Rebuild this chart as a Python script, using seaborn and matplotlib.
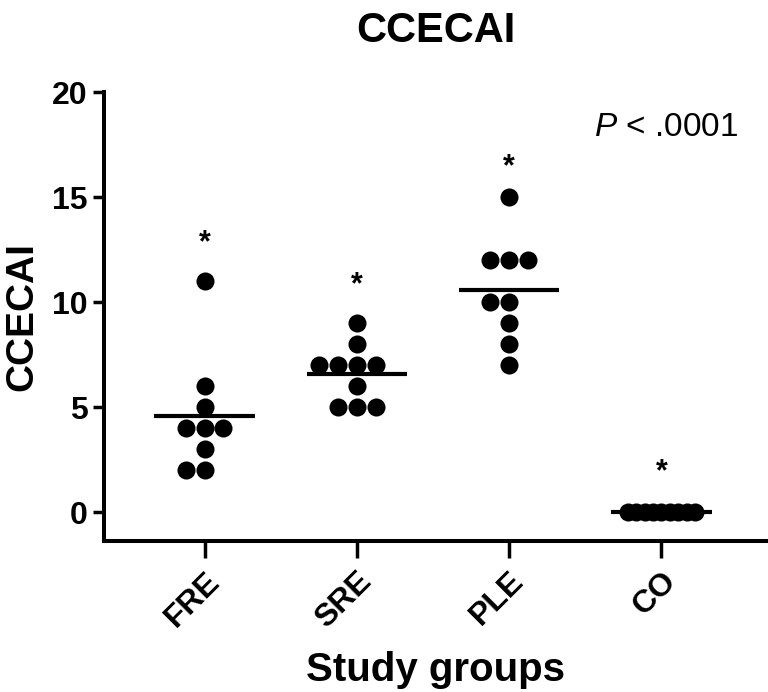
import numpy as np
import pandas as pd
import matplotlib
matplotlib.use('Agg')
import matplotlib.pyplot as plt
import seaborn as sns

# Values
groups = ['FRE', 'SRE', 'PLE', 'CO']
fre_scores = [11, 6, 5, 4, 4, 4, 3, 2, 2]
sre_scores = [9, 8, 7, 7, 7, 7, 6, 5, 5, 5]
ple_scores = [15, 12, 12, 12, 10, 10, 9, 8, 7]
co_scores = [0, 0, 0, 0, 0, 0, 0, 0, 0]
star_heights = [12.8, 10.8, 16.4, 1.9]
p_text = '$\\mathit{P}$ < .0001'

# Build long-form table
rows = []
for name, scores in zip(groups, [fre_scores, sre_scores, ple_scores, co_scores]):
    for s in scores:
        rows.append({'group': name, 'CCECAI': s})
df = pd.DataFrame(rows)

sns.set_style('ticks')
plt.rcParams['font.family'] = ['Liberation Sans', 'DejaVu Sans']
plt.rcParams['font.weight'] = 'bold'
plt.rcParams['mathtext.fontset'] = 'custom'
plt.rcParams['mathtext.it'] = 'Liberation Sans:italic:normal'
plt.rcParams['mathtext.rm'] = 'Liberation Sans:normal'
for key in ['text.color', 'axes.labelcolor', 'xtick.color', 'ytick.color', 'axes.edgecolor']:
    plt.rcParams[key] = 'black'

fig = plt.figure(figsize=(7.68, 6.92), dpi=100)
ax = fig.add_axes([0.1354, 0.218, 0.8646, 0.649])

# Swarm for the three patient groups
swarm_df = df[df['group'] != 'CO']
sns.swarmplot(data=swarm_df, x='group', y='CCECAI', order=groups, color='black',
              size=13, linewidth=0, ax=ax)

# Controls are all tied at zero: GraphPad packs them in one overlapping row
co_x = 3 + np.linspace(-0.22, 0.22, len(co_scores))
ax.scatter(co_x, co_scores, s=13 ** 2, color='black', linewidths=0, zorder=2)

# Mean lines
means = df.groupby('group', sort=False)['CCECAI'].mean()
for i, g in enumerate(groups):
    ax.hlines(means[g], i - 0.33, i + 0.33, color='black', lw=3, zorder=3)

# Significance stars
for i, h in enumerate(star_heights):
    ax.text(i, h, '*', ha='center', va='center', fontsize=22, fontweight='bold')

ax.text(3.03, 18.3, p_text, ha='center', va='center', fontsize=24, fontweight='normal')

ax.set_xlim(-0.66, 3.70)
ax.set_ylim(-1.38, 20)
ax.set_yticks([0, 5, 10, 15, 20])
ax.set_xticks(range(len(groups)))
ax.set_xticklabels(groups, rotation=45, ha='right', rotation_mode='anchor',
                   fontweight='bold')

sns.despine(ax=ax)
for side in ['left', 'bottom']:
    ax.spines[side].set_linewidth(2.9)
ax.tick_params(axis='y', length=8, width=2.5, labelsize=23, pad=4)
ax.tick_params(axis='x', length=12, width=2.5, labelsize=23, pad=6)

ax.set_title('CCECAI', fontsize=30, fontweight='bold', pad=36)
ax.set_ylabel('CCECAI', fontsize=28, fontweight='bold', labelpad=8)
ax.set_xlabel('Study groups', fontsize=29, fontweight='bold', labelpad=12)

fig.savefig('out.png', dpi=100)
